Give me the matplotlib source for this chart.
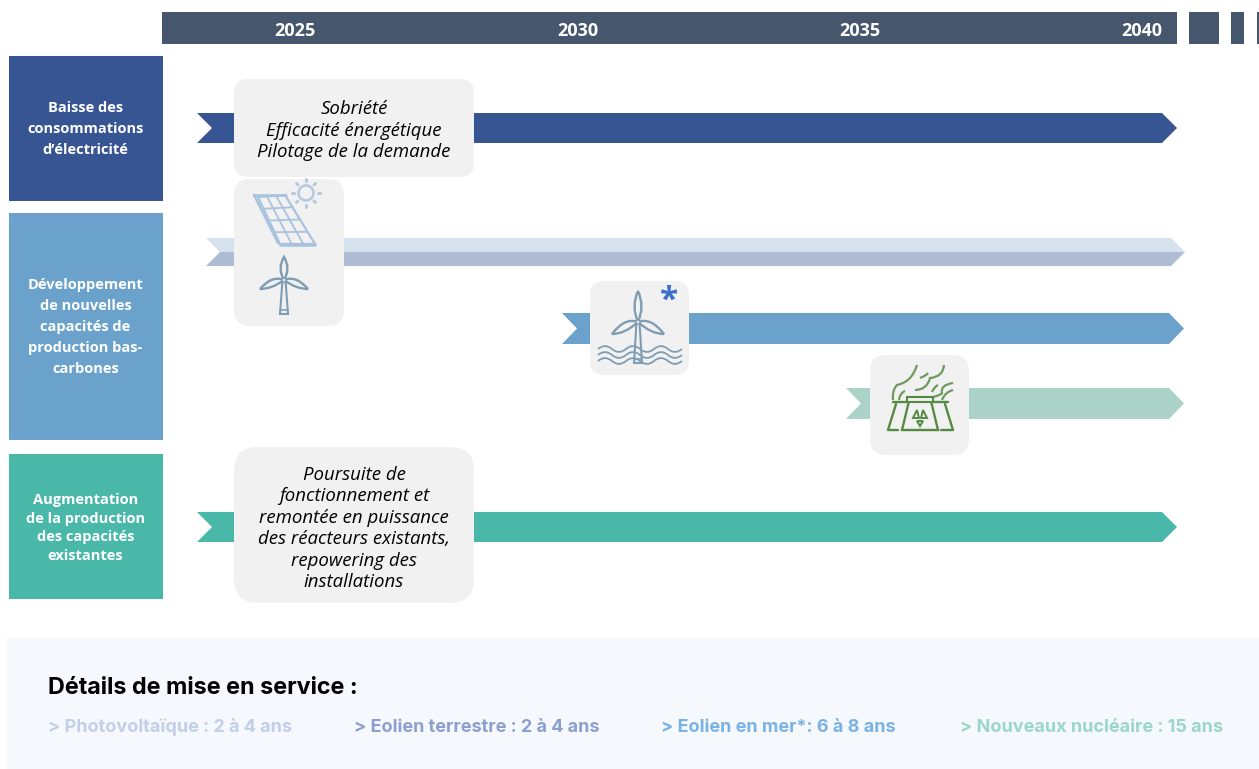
import matplotlib

matplotlib.use("Agg")
import matplotlib.pyplot as plt
from matplotlib.patches import Circle, FancyBboxPatch, PathPatch, Polygon, Rectangle
from matplotlib.path import Path

years = [2025, 2030, 2035, 2040]
year_x = [295, 578, 860, 1142]

category_labels = [
    "Baisse des\nconsommations\nd’électricité",
    "Développement\nde nouvelles\ncapacités de\nproduction bas-\ncarbones",
    "Augmentation\nde la production\ndes capacités\nexistantes",
]
category_colors = ["#375493", "#6AA2CC", "#4AB8A8"]
category_spans = [(56, 201), (213, 440), (454, 599)]

action_1 = "Sobriété\nEfficacité énergétique\nPilotage de la demande"
action_2 = (
    "Poursuite de\nfonctionnement et\nremontée en puissance\n"
    "des réacteurs existants,\nrepowering des\ninstallations"
)

details = [
    "> Photovoltaïque : 2 à 4 ans",
    "> Eolien terrestre : 2 à 4 ans",
    "> Eolien en mer*: 6 à 8 ans",
    "> Nouveaux nucléaire : 15 ans",
]
details_x = [48, 354, 661, 960]
details_colors = ["#C3CFE8", "#8C9FCF", "#79B2E3", "#9AD6CC"]

HEADER = "#46566C"
BOX = "#F1F1F1"
FONT = "Open Sans"
FONT2 = "Inter"


def arrow(ax, x0, x1, y0, y1, color):
    mid = (y0 + y1) / 2
    pts = [(x0, y0), (x1 - 15, y0), (x1, mid), (x1 - 15, y1), (x0, y1), (x0 + 15, mid)]
    ax.add_patch(Polygon(pts, closed=True, fc=color, ec="none", zorder=2))


def rbox(ax, x0, x1, y0, y1, r):
    ax.add_patch(
        FancyBboxPatch(
            (x0, y0), x1 - x0, y1 - y0,
            boxstyle=f"round,pad=0,rounding_size={r}",
            fc=BOX, ec="none", zorder=3,
        )
    )


def line(ax, xs, ys, color, lw=1.2):
    ax.plot(xs, ys, color=color, lw=lw, zorder=4, solid_capstyle="round")


def curve(ax, pts, color, lw=1.2):
    # pts: start then pairs control/end, so always an odd count
    codes = [Path.MOVETO] + [Path.CURVE3] * (len(pts) - 1)
    ax.add_patch(PathPatch(Path(pts, codes), fc="none", ec=color, lw=lw, zorder=4))


def turbine(ax, cx, hub, top, base, span, drop, color):
    ax.add_patch(Polygon([(cx - 1.5, hub), (cx + 1.5, hub), (cx + 4, base), (cx - 4, base)],
                         closed=True, fc="none", ec=color, lw=1.5, zorder=4))
    line(ax, [cx - 4, cx + 4], [base - 4, base - 4], color, 1.2)
    for tip, ctrl_a, ctrl_b in [
        ((cx, top), (cx - 7, (hub + top) / 2), (cx + 7, (hub + top) / 2)),
        ((cx - span, hub + drop), (cx - span / 2, hub - 5), (cx - span / 2, hub + drop)),
        ((cx + span, hub + drop), (cx + span / 2, hub - 5), (cx + span / 2, hub + drop)),
    ]:
        pts = [(cx, hub), ctrl_a, tip, ctrl_b, (cx, hub)]
        codes = [Path.MOVETO, Path.CURVE3, Path.CURVE3, Path.CURVE3, Path.CURVE3]
        ax.add_patch(PathPatch(Path(pts, codes), fc="none", ec=color, lw=1.7, zorder=4))
    ax.add_patch(Circle((cx, hub), 2, fc=BOX, ec=color, lw=1.0, zorder=5))


def solar(ax):
    c = "#A9C3DE"
    tl, tr, br, bl = (258, 197), (285, 195), (315, 244), (280, 244)
    ax.add_patch(Polygon([tl, tr, br, bl], closed=True, fc="none", ec=c, lw=1.6, zorder=4))
    line(ax, [254, 278, 280], [195, 243, 244], c, 1.8)
    line(ax, [254, 286], [195, 195], c, 1.8)
    line(ax, [280, 315], [245, 245], c, 1.8)
    for t in (1 / 3, 2 / 3):
        line(ax, [tl[0] + t * (tr[0] - tl[0]), bl[0] + t * (br[0] - bl[0])],
             [tl[1] + t * (tr[1] - tl[1]), bl[1] + t * (br[1] - bl[1])], c, 1.3)
    for t in (0.25, 0.5, 0.75):
        line(ax, [tl[0] + t * (bl[0] - tl[0]), tr[0] + t * (br[0] - tr[0])],
             [tl[1] + t * (bl[1] - tl[1]), tr[1] + t * (br[1] - tr[1])], c, 1.3)
    sc = "#B4C8DE"
    ax.add_patch(Circle((306, 193), 7.5, fc="none", ec=sc, lw=1.8, zorder=4))
    for dx, dy in [(0, -13), (9, -9), (13, 0), (9, 9), (0, 13), (-9, 9), (-13, 0), (-9, -9)]:
        line(ax, [306 + dx * 0.9, 306 + dx * 1.05], [193 + dy * 0.9, 193 + dy * 1.05], sc, 2.2)


def waves(ax, x0, x1, y, color):
    step = 14
    pts = [(x0, y)]
    x = x0
    sign = -1
    while x + step <= x1:
        pts.append((x + step / 2, y + sign * 6))
        pts.append((x + step, y))
        x += step
        sign = -sign
    curve(ax, pts, color, 1.3)


def nuclear(ax):
    c = "#558A42"
    # central tower
    ax.add_patch(Polygon([(909, 401), (931, 401), (938, 430), (902, 430)], closed=True,
                         fc="none", ec=c, lw=1.7, zorder=5))
    ax.add_patch(Rectangle((907, 397), 26, 4.5, fc=BOX, ec=c, lw=1.5, zorder=5))
    # side towers
    line(ax, [896, 888, 898], [404, 430, 430], c, 1.7)
    line(ax, [893, 906], [402, 402], c, 1.7)
    line(ax, [945, 953, 941], [404, 430, 430], c, 1.7)
    line(ax, [934, 948], [402, 402], c, 1.7)
    # radiation sign
    for pts in [[(917, 410), (913, 418), (919, 418)], [(923, 410), (927, 418), (921, 418)],
                [(917, 421), (923, 421), (920, 426)]]:
        ax.add_patch(Polygon(pts, closed=True, fc="none", ec=c, lw=1.4, zorder=5))
    # smoke
    for pts in [
        [(917, 365), (912, 382), (897, 385), (892, 390), (893, 400)],
        [(944, 365), (943, 377), (930, 378), (927, 390), (915, 390)],
        [(928, 373), (926, 376), (920, 378)],
        [(953, 383), (940, 385), (942, 393), (941, 395), (933, 397)],
        [(953, 390), (945, 392), (942, 400)],
        [(938, 385), (934, 387), (932, 392)],
        [(905, 391), (900, 393), (899, 400)],
    ]:
        curve(ax, pts, "#6E9A5E", 1.6)


plt.rcParams["font.family"] = [FONT, "DejaVu Sans"]
fig = plt.figure(figsize=(12.59, 7.69), dpi=100)
ax = fig.add_axes([0, 0, 1, 1])
ax.set_xlim(0, 1259)
ax.set_ylim(769, 0)
ax.axis("off")

# header bar
for x0, x1 in [(162, 1177), (1189, 1219), (1231, 1244), (1257, 1259)]:
    ax.add_patch(Rectangle((x0, 12), x1 - x0, 32, fc=HEADER, ec="none"))
for x, y in zip(year_x, years):
    ax.text(x, 30.5, str(y), color="white", fontsize=13, fontweight="bold",
            ha="center", va="center")

# left category blocks
for color, (y0, y1) in zip(category_colors, category_spans):
    ax.add_patch(Rectangle((9, y0), 154, y1 - y0, fc=color, ec="none"))

label_y = [129, 327, 528]
label_spacing = [1.65, 1.65, 1.41]
for label, yc, sp in zip(category_labels, label_y, label_spacing):
    ax.text(85.5, yc, label, color="white", fontsize=10.5, fontweight="bold",
            ha="center", va="center", linespacing=sp)

# arrows
arrow(ax, 197, 1177, 113, 143, "#375493")
ax.add_patch(Polygon([(206, 238), (1171, 238), (1185, 252), (220, 252)], closed=True,
                     fc="#D5E1ED", ec="none", zorder=2))
ax.add_patch(Polygon([(220, 252), (1185, 252), (1171, 266), (206, 266)], closed=True,
                     fc="#AEBCD4", ec="none", zorder=2))
arrow(ax, 562, 1184, 313, 344, "#6AA2CC")
arrow(ax, 846, 1184, 388, 419, "#ABD2C8")
arrow(ax, 197, 1177, 512, 542, "#4AB8A8")

# grey boxes
rbox(ax, 234, 474, 79, 177, 14)
rbox(ax, 234, 344, 179, 326, 16)
rbox(ax, 590, 689, 281, 375, 14)
rbox(ax, 870, 969, 355, 455, 16)
rbox(ax, 234, 474, 447, 603, 24)

ax.text(354, 130.5, action_1, color="black", fontsize=13.4, fontstyle="italic",
        ha="center", va="center", linespacing=1.24, zorder=6)
ax.text(354, 528.5, action_2, color="black", fontsize=13.4, fontstyle="italic",
        ha="center", va="center", linespacing=1.24, zorder=6)

# icons
solar(ax)
turbine(ax, 284, 280, 257, 314, 24, 9, "#7E9DB3")
turbine(ax, 638, 322, 291, 363, 26, 12, "#7E9DB3")
for y in (349, 355, 361):
    waves(ax, 598, 682, y, "#7E9DB3")
ax.text(669, 301, "*", color="#3F6FC8", fontsize=24, fontweight="bold",
        ha="center", va="center", zorder=6)
nuclear(ax)

# bottom panel
ax.add_patch(Rectangle((7, 638), 1252, 131, fc="#F5F8FD", ec="none"))
ax.text(48, 687.5, "Détails de mise en service :", color="black", fontsize=16.8,
        fontweight="bold", family=FONT2, ha="left", va="center")
for x, text, color in zip(details_x, details, details_colors):
    ax.text(x, 727, text, color=color, fontsize=13, fontweight="bold",
            family=FONT2, ha="left", va="center")

fig.savefig("out.png", dpi=100)
